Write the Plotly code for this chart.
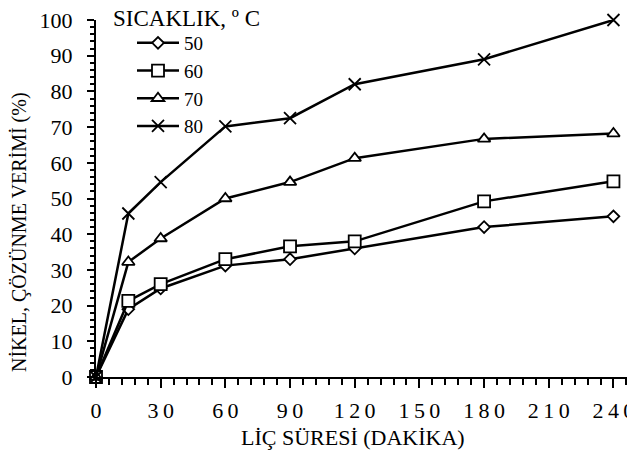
import plotly.graph_objects as go

times = [0, 15, 30, 60, 90, 120, 180, 240]
temps = ["50", "60", "70", "80"]
y50 = [0, 19, 24.8, 31.2, 33, 36, 42, 45]
y60 = [0, 21.3, 26, 33, 36.6, 38, 49.2, 54.8]
y70 = [0, 32.2, 38.8, 50, 54.6, 61.3, 66.7, 68.2]
y80 = [0, 45.8, 54.6, 70.2, 72.5, 82, 89, 100]
series = [y50, y60, y70, y80]
symbols = ["diamond", "square", "triangle-up", "x-thin"]
sizes = [9, 12, 11, 12]

xticks = [0, 30, 60, 90, 120, 150, 180, 210, 240]
yticks = list(range(0, 101, 10))
THIN = "\u2009"
xticktext = [THIN.join(str(v)) for v in xticks]

fig = go.Figure()
for name, ys, sym, sz in zip(temps, series, symbols, sizes):
    fig.add_trace(go.Scatter(
        x=times, y=ys, name=name, mode="lines+markers",
        line=dict(color="black", width=2.5),
        marker=dict(symbol=sym, size=sz, color="white",
                    line=dict(color="black", width=1.8)),
        cliponaxis=False,
    ))

font_family = "'Liberation Serif', 'Times New Roman', serif"
# page has an 8px body margin; figure coords = page coords - 8
OFF = 8
W, H = 635 - OFF, 455 - OFF
L, T = 96 - OFF, 20 - OFF
R = 0
B = H - (377 - OFF)
pw, ph = W - L - R, H - T - B

def px_x(p):
    return (p - OFF - L) / pw

def px_y(p):
    return (H - B - (p - OFF)) / ph

fig.update_layout(
    width=W, height=H,
    margin=dict(l=L, r=R, t=T, b=B, autoexpand=False),
    paper_bgcolor="white", plot_bgcolor="white",
    font=dict(family=font_family, color="black"),
    showlegend=True,
    legend=dict(
        x=px_x(132), y=px_y(24), xanchor="left", yanchor="top",
        bgcolor="rgba(0,0,0,0)",
        font=dict(size=19, family=font_family),
        itemwidth=42, tracegroupgap=0,
    ),
    xaxis=dict(
        range=[0, 250], tickvals=xticks, ticktext=xticktext,
        automargin=False, ticklabeloverflow="allow",
        showline=True, linecolor="black", linewidth=2,
        ticks="outside", ticklen=9, tickwidth=2, tickcolor="black",
        minor=dict(dtick=6, tick0=0, ticks="outside", ticklen=6, tickwidth=1.5, tickcolor="black"),
        showgrid=False, zeroline=False,
        tickfont=dict(size=22, family=font_family),
        ticklabelstandoff=4,
    ),
    yaxis=dict(
        range=[0, 100], tickvals=yticks,
        automargin=False, ticklabeloverflow="allow",
        showline=True, linecolor="black", linewidth=2,
        ticks="outside", ticklen=7, tickwidth=2, tickcolor="black",
        minor=dict(dtick=2, tick0=0, ticks="outside", ticklen=4, tickwidth=1.5, tickcolor="black"),
        showgrid=False, zeroline=False,
        tickfont=dict(size=22, family=font_family),
        ticklabelstandoff=10,
    ),
    annotations=[
        dict(text="LİÇ SÜRESİ (DAKİKA)", xref="paper", yref="paper",
             x=px_x(353), y=px_y(437), xanchor="center", yanchor="middle",
             showarrow=False, font=dict(size=22, family=font_family)),
        dict(text="NİKEL, ÇÖZÜNME VERİMİ (%)", xref="paper", yref="paper",
             x=px_x(19), y=px_y(232), xanchor="center", yanchor="middle",
             textangle=-90, showarrow=False, font=dict(size=20, family=font_family)),
        dict(text="SICAKLIK, º C", xref="paper", yref="paper",
             x=px_x(111), y=px_y(18), xanchor="left", yanchor="middle",
             showarrow=False, font=dict(size=23, family=font_family)),
    ],
)

fig.write_html("out.html")
